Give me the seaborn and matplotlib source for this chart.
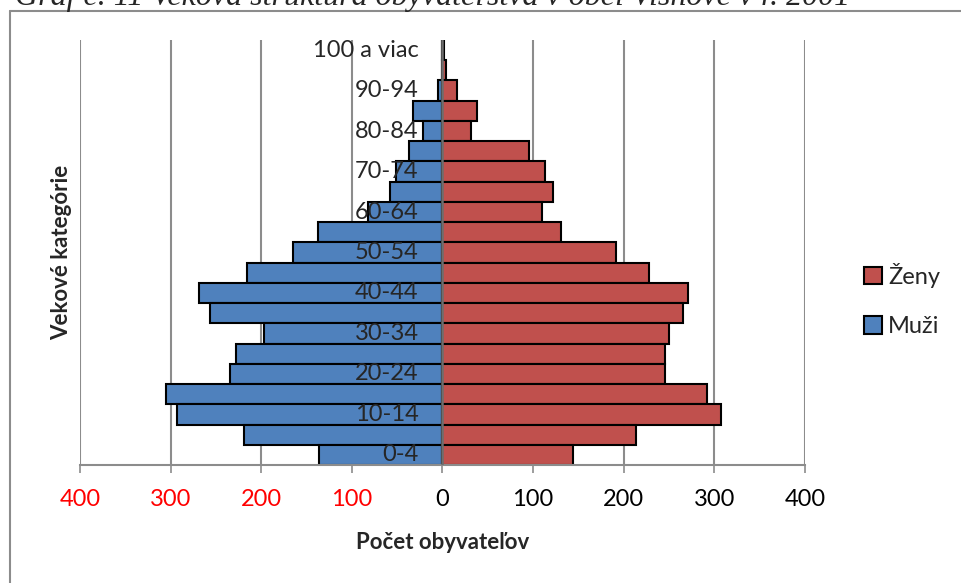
import numpy as np
import pandas as pd
import matplotlib.pyplot as plt
import seaborn as sns
from matplotlib.patches import Patch
from matplotlib.lines import Line2D

# age groups, bottom to top
ages = ['0-4', '5-9', '10-14', '15-19', '20-24', '25-29', '30-34', '35-39',
        '40-44', '45-49', '50-54', '55-59', '60-64', '65-69', '70-74',
        '75-79', '80-84', '85-89', '90-94', '95-99', '100 a viac']
muzi = [136, 219, 293, 305, 234, 228, 197, 256, 269, 216, 165, 137, 82,
        58, 51, 37, 22, 33, 5, 1, 1]
zeny = [144, 214, 307, 292, 245, 245, 250, 265, 271, 228, 191, 131, 110,
        122, 113, 95, 32, 38, 16, 4, 2]
xticks = [-400, -300, -200, -100, 0, 100, 200, 300, 400]

blue = '#4F81BD'
red = '#C0504D'
grid = '#8C8C8C'

sns.set_style('white')
plt.rcParams['font.family'] = ['Lato', 'DejaVu Sans']

df = pd.DataFrame({'vek': ages, 'muzi': -np.array(muzi), 'zeny': zeny})
order = ages[::-1]  # top row first

fig = plt.figure(figsize=(9.62, 5.83), dpi=100)
ax = fig.add_axes([80 / 962, 1 - 465 / 583, 725 / 962, 425 / 583])

sns.barplot(data=df, x='muzi', y='vek', order=order, color=blue,
            edgecolor='black', linewidth=1.5, width=1.0, saturation=1, ax=ax)
sns.barplot(data=df, x='zeny', y='vek', order=order, color=red,
            edgecolor='black', linewidth=1.5, width=1.0, saturation=1, ax=ax)

ax.set_xlim(-400, 400)
ax.set_ylim(len(ages) - 0.5, -0.5)
ax.set_xticks(xticks)
ax.set_xticklabels([str(abs(v)) for v in xticks], fontsize=17)
for lab, v in zip(ax.get_xticklabels(), xticks):
    lab.set_color('red' if v < 0 else 'black')
ax.tick_params(axis='x', length=6, width=1.2, color=grid, pad=11,
               direction='out', bottom=True)

# vertical grid and zero axis
for v in xticks:
    ax.axvline(v, color=grid, lw=1.5, zorder=0)
ax.axvline(0, color='#6E6E6E', lw=1.8, zorder=5)

for s in ['top', 'right', 'left']:
    ax.spines[s].set_visible(False)
ax.spines['bottom'].set_color(grid)
ax.spines['bottom'].set_linewidth(1.5)

# category labels next to the zero axis, every other group
ax.set_yticks([])
for i, a in enumerate(order):
    if ages.index(a) % 2 == 0:
        ax.annotate(a, xy=(0, i), xytext=(-24, 0), textcoords='offset pixels',
                    ha='right', va='center', fontsize=17, zorder=6)

ax.set_ylabel('Vekové kategórie', fontsize=16, fontweight='bold', labelpad=6)
ax.set_xlabel('Počet obyvateľov', fontsize=16, fontweight='bold', labelpad=16)

handles = [Patch(facecolor=red, edgecolor='black', linewidth=1.5, label='Ženy'),
           Patch(facecolor=blue, edgecolor='black', linewidth=1.5, label='Muži')]
fig.legend(handles=handles, loc='center left', bbox_to_anchor=(843 / 962, 1 - 300 / 583),
           frameon=False, fontsize=17, handlelength=0.75, handleheight=0.75,
           handletextpad=0.25, labelspacing=1.2)

# chart border (cut by the page edge)
fig.add_artist(Line2D([10 / 962, 10 / 962], [0, 1 - 11 / 583], color=grid, lw=1.5))
fig.add_artist(Line2D([10 / 962, 1], [1 - 11 / 583, 1 - 11 / 583], color=grid, lw=1.5))

# title, only its lower part is visible
fig.text(15 / 962, 1 - 5 / 583, 'Graf č. 11 Veková štruktúra obyvateľstva v obci Višňové v r. 2001',
         family='Liberation Serif', style='italic', fontsize=23, va='baseline', ha='left')

fig.savefig('out.png', dpi=100)
